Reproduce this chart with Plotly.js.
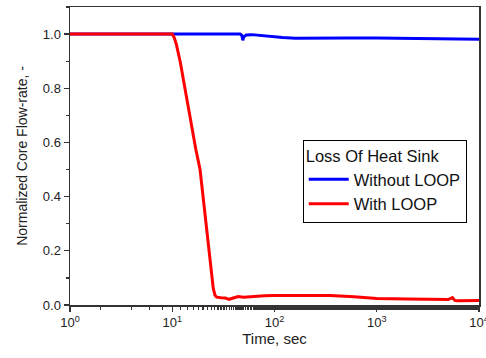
<!DOCTYPE html>
<html><head><meta charset="utf-8">
<script src="https://cdn.plot.ly/plotly-3.0.1.min.js"></script>
<style>html,body{margin:0;padding:0;background:#fff;}#chart{width:486px;height:358px;}</style>
</head><body><div id="chart"></div>
<script>
const seriesNames = ["Without LOOP", "With LOOP"];
const legendTitle = "Loss Of Heat Sink";
const xTickVals = [1, 10, 100, 1000, 10000];
const xTickText = ["10<sup>0</sup>", "10<sup>1</sup>", "10<sup>2</sup>", "10<sup>3</sup>", "10<sup>4</sup>"];
const tWithout = [1, 10, 30, 46, 48, 49, 50, 53, 60, 80, 120, 160, 250, 500, 1000, 2000, 5000, 10000];
const fWithout = [1.0, 1.0, 1.0, 1.0, 0.995, 0.977, 0.99, 0.997, 0.998, 0.993, 0.987, 0.985, 0.986, 0.986, 0.986, 0.985, 0.983, 0.981];
const tWith = [1, 10, 10.5, 11, 12, 13.3, 14.5, 15.5, 17, 18.7, 20.5, 22.5, 24, 25.2, 26.2, 27.2, 30, 33, 36, 40, 44, 50, 60, 80, 100, 200, 350, 600, 1000, 2000, 5000, 5500, 5800, 6200, 8000, 10000];
const fWith = [1.0, 1.0, 0.985, 0.96, 0.895, 0.80, 0.72, 0.645, 0.575, 0.50, 0.37, 0.24, 0.13, 0.06, 0.036, 0.029, 0.027, 0.026, 0.021, 0.025, 0.031, 0.029, 0.032, 0.034, 0.035, 0.036, 0.035, 0.03, 0.024, 0.022, 0.02, 0.027, 0.017, 0.016, 0.017, 0.017];

const data = [
  {x: tWithout, y: fWithout, name: seriesNames[0], type: 'scatter', mode: 'lines',
   line: {color: '#0000ff', width: 3}},
  {x: tWith, y: fWith, name: seriesNames[1], type: 'scatter', mode: 'lines',
   line: {color: '#ff0000', width: 3}}
];
const axisCommon = {
  showline: true, linecolor: '#333', linewidth: 1.5, mirror: true,
  ticks: 'outside', ticklen: 5, tickwidth: 1.2, tickcolor: '#333',
  showgrid: false, zeroline: false, ticklabeloverflow: 'allow',
  tickfont: {family: 'Liberation Sans, Arial, sans-serif', size: 13, color: '#222'}
};
const layout = {
  width: 486, height: 358,
  margin: {l: 70, r: 7, t: 7, b: 53},
  paper_bgcolor: '#fff', plot_bgcolor: '#fff',
  font: {family: 'Liberation Sans, Arial, sans-serif', color: '#222'},
  showlegend: true,
  xaxis: Object.assign({}, axisCommon, {
    type: 'log', range: [0, 4], tickmode: 'array', tickvals: xTickVals, ticktext: xTickText,
    minor: {ticks: 'outside', ticklen: 3, tickcolor: '#333', showgrid: false},
    title: {text: 'Time, sec', font: {size: 15, color: '#222'}, standoff: 3}
  }),
  yaxis: Object.assign({}, axisCommon, {
    range: [0, 1.1], dtick: 0.2, tick0: 0, tickformat: '.1f',
    minor: {ticks: 'outside', ticklen: 3, dtick: 0.1, tickcolor: '#333', showgrid: false},
    title: {text: 'Normalized Core Flow-rate, -', font: {size: 14, color: '#222'}, standoff: 12}
  }),
  legend: {
    x: 0.569, y: 0.555, xanchor: 'left', yanchor: 'top',
    bordercolor: '#000', borderwidth: 1, bgcolor: '#fff',
    font: {size: 16.5, color: '#111'},
    title: {text: legendTitle, font: {size: 16.5, color: '#111'}},
    tracegroupgap: 0, itemwidth: 40
  }
};
Plotly.newPlot('chart', data, layout, {displayModeBar: false, staticPlot: true});
</script></body></html>
